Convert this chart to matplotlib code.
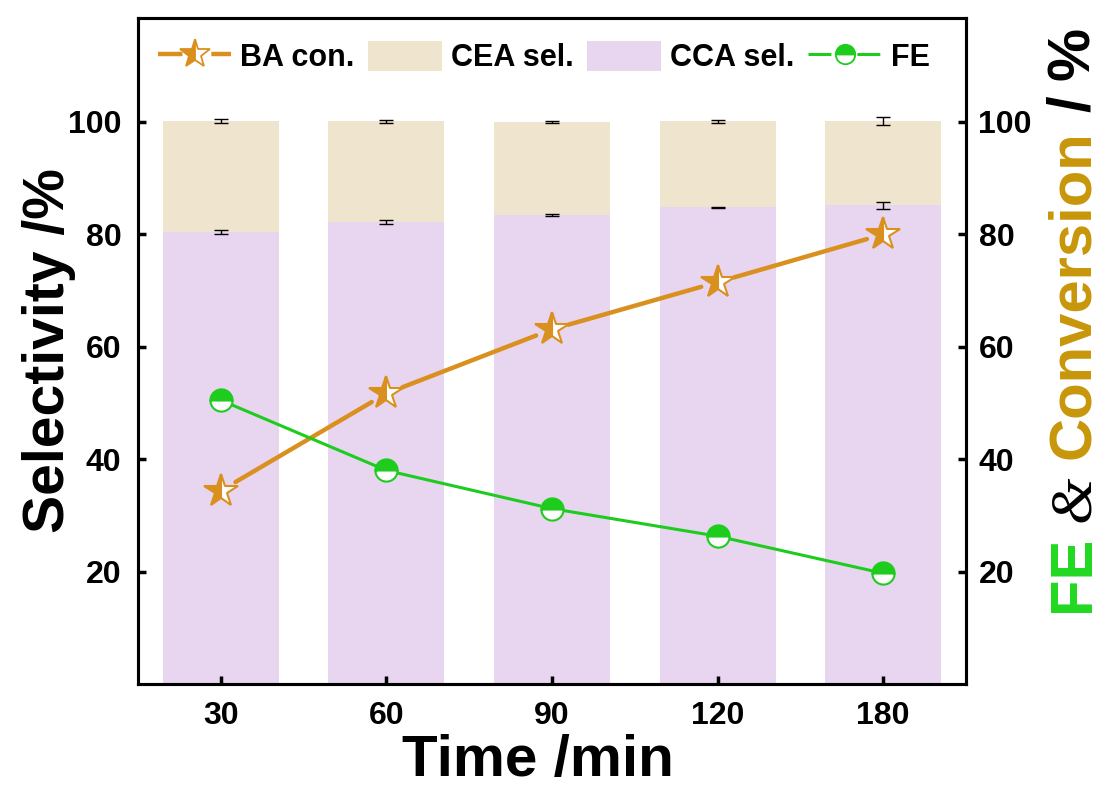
import matplotlib
matplotlib.use("Agg")
import matplotlib.pyplot as plt
import numpy as np
from matplotlib.lines import Line2D
from matplotlib.patches import Patch

plt.rcParams["font.family"] = ["Liberation Sans", "DejaVu Sans"]
plt.rcParams["font.weight"] = "bold"
plt.rcParams["axes.labelweight"] = "bold"

# data
times = ["30", "60", "90", "120", "180"]
cca_sel = [80.4, 82.2, 83.5, 84.8, 85.2]
cca_err = [0.3, 0.3, 0.2, 0.1, 0.6]
cea_sel = [19.8, 17.9, 16.5, 15.3, 15.0]
cea_err = [0.3, 0.3, 0.1, 0.3, 0.7]
ba_con = [34.4, 51.7, 63.1, 71.5, 80.0]
fe = [50.5, 38.0, 31.2, 26.3, 19.7]

C_CEA = "#EFE4CE"
C_CCA = "#E8D6F0"
C_BA = "#D9901E"
C_CONV = "#C8960A"
C_FE = "#1ECC1E"
C_FE_LABEL = "#22D822"

W, H = 1103, 787
fig = plt.figure(figsize=(W / 100, H / 100), dpi=100)
ax = fig.add_axes([138 / W, 1 - 684 / H, (966 - 138) / W, (684 - 18) / H])
ax2 = ax.twinx()

x = np.arange(len(times))
ymax = 118.5

ax.bar(x, cca_sel, width=0.70, color=C_CCA, zorder=1)
ax.bar(x, cea_sel, width=0.70, bottom=cca_sel, color=C_CEA, zorder=1)
top = np.array(cca_sel) + np.array(cea_sel)
ax.errorbar(x, cca_sel, yerr=cca_err, fmt="none", ecolor="black",
            elinewidth=1, capsize=5, capthick=1, zorder=2)
ax.errorbar(x, top, yerr=cea_err, fmt="none", ecolor="black",
            elinewidth=1, capsize=5, capthick=1, zorder=2)

for a in (ax, ax2):
    a.set_xlim(-0.5, 4.5)
    a.set_ylim(0, ymax)
    a.set_yticks([20, 40, 60, 80, 100])
    a.tick_params(direction="in", length=6, width=2.5, labelsize=23)
    for s in a.spines.values():
        s.set_linewidth(2.2)
ax.tick_params(axis="y", pad=12)
ax2.tick_params(axis="y", pad=9)
ax.set_xticks(x)
ax.set_xticklabels(times)
ax.tick_params(axis="x", pad=12)


def gapped(a, xs, ys, gap, **kw):
    # line segments between markers, shortened by `gap` pixels at each end
    pts = a.transData.transform(np.column_stack([xs, ys]))
    inv = a.transData.inverted()
    for p, q in zip(pts[:-1], pts[1:]):
        d = q - p
        u = d / np.hypot(*d)
        seg = inv.transform(np.array([p + u * gap, q - u * gap]))
        a.plot(seg[:, 0], seg[:, 1], solid_capstyle="round", **kw)


gapped(ax2, x, ba_con, 17, color=C_BA, lw=3.2, zorder=3)
gapped(ax2, x, fe, 12, color=C_FE, lw=2.2, zorder=3)
ax2.plot(x, ba_con, ls="none", marker="*", ms=25, fillstyle="left",
         mfc=C_BA, mfcalt="white", mec=C_BA, mew=1.5, zorder=4)
ax2.plot(x, fe, ls="none", marker="o", ms=16, fillstyle="top",
         mfc=C_FE, mfcalt="white", mec=C_FE, mew=1.5, zorder=4)

ax.set_xlabel("Time /min", fontsize=42, labelpad=2)
ax.xaxis.set_label_coords(0.483, -0.075)
ax.xaxis.label.set_va("top")
ax.set_ylabel("Selectivity /%", fontsize=41, labelpad=-6)

handles = [
    Line2D([], [], color=C_BA, lw=3.2, dashes=(5.5, 6.5), marker="*", ms=22,
           fillstyle="left", mfc=C_BA, mfcalt="white", mec=C_BA, mew=1.3),
    Patch(facecolor=C_CEA),
    Patch(facecolor=C_CCA),
    Line2D([], [], color=C_FE, lw=2.2, dashes=(7.5, 8.5), marker="o", ms=14,
           fillstyle="top", mfc=C_FE, mfcalt="white", mec=C_FE, mew=1.3),
]
labels = ["BA con.", "CEA sel.", "CCA sel.", "FE"]
ax2.legend(handles, labels, loc="upper center", bbox_to_anchor=(0.49, 1.0),
           ncol=4, frameon=False, fontsize=22, handlelength=2.4,
           handleheight=1.15, handletextpad=0.3, columnspacing=0.45,
           borderaxespad=0.35)

# multi-coloured right-hand label, packed bottom to top
fig.canvas.draw()
renderer = fig.canvas.get_renderer()
pieces = [("FE", C_FE_LABEL, "Liberation Sans", "normal", "bold", 14),
          ("&", "black", "Liberation Serif", "italic", "normal", 16),
          ("Conversion", C_CONV, "Liberation Sans", "normal", "bold", 18),
          ("/", "black", "Liberation Sans", "normal", "bold", 16),
          ("%", "black", "Liberation Sans", "normal", "bold", 0)]
xb = 1089
yb = H - 612
for txt, col, fam, sty, wt, gap in pieces:
    t = fig.text(xb / W, yb / H, txt, rotation=90, rotation_mode="anchor",
                 ha="left", va="baseline", fontsize=43, color=col,
                 family=fam, style=sty, weight=wt)
    bb = t.get_window_extent(renderer)
    yb = bb.y1 + gap

fig.savefig("out.png", dpi=100)
